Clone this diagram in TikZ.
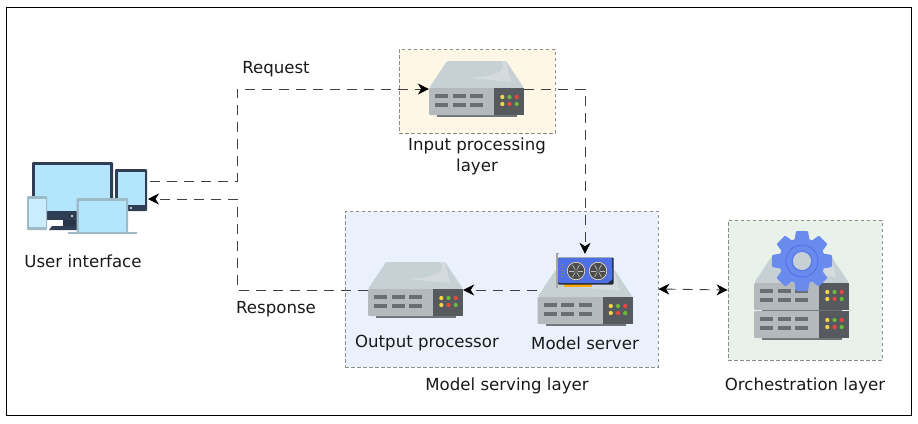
\documentclass[tikz,border=0pt]{standalone}
\usepackage{fontspec}
\setmainfont{DejaVu Sans}
\usetikzlibrary{arrows.meta}
\definecolor{topc}{HTML}{C7D0D5}
\definecolor{toph}{HTML}{D4DADE}
\definecolor{frontc}{HTML}{B4B9BD}
\definecolor{panelc}{HTML}{565A5E}
\definecolor{slotc}{HTML}{686E73}
\definecolor{basec}{HTML}{6F7478}
\definecolor{ledy}{HTML}{F5D547}
\definecolor{ledg}{HTML}{6CBB3C}
\definecolor{ledr}{HTML}{E8483F}
\definecolor{screenc}{HTML}{B3E5FC}
\definecolor{bezelc}{HTML}{2F3E55}
\definecolor{gearc}{HTML}{6A8BEE}
\definecolor{gearl}{HTML}{4F6FE6}
\definecolor{lapc}{HTML}{9DBAC6}
\tikzset{
  x=1pt,y=-1pt,
  conn/.style={draw=black!75,line width=0.9pt,dash pattern=on 10pt off 7pt},
  tip/.style={-{Stealth[length=11pt,width=11pt,inset=3.5pt,black]}},
  bothtips/.style={{Stealth[length=11pt,width=11pt,inset=3.5pt,black]}-{Stealth[length=11pt,width=11pt,inset=3.5pt,black]}},
  layerbox/.style={draw=black!45,line width=0.9pt,dash pattern=on 3.5pt off 2.5pt},
  lbl/.style={font=\fontsize{16.6}{19}\selectfont,inner sep=0pt,text=black!90},
  iconarea/.style={inner sep=0pt,draw=none},
  led/.style={fill=#1,draw=none},
  pics/unit/.style={code={
    % origin is the top left corner of the front face
    \fill[basec] (8,27) rectangle (88,29);
    \fill[frontc,rounded corners=1pt] (0,0) rectangle (66,27);
    \fill[panelc] (65,0) rectangle (95,27);
    \foreach \sx in {6,23.5,41}{
      \fill[slotc] (\sx,5.5) rectangle ++(13,4.5);
      \fill[slotc] (\sx,14.5) rectangle ++(13,4.5);
    }
    \fill[led=ledy] (73.3,9) circle (2.1);
    \fill[led=ledg] (80.5,9) circle (2.1);
    \fill[led=ledr] (87.7,9) circle (2.1);
    \fill[led=ledy] (73.3,16) circle (2.1);
    \fill[led=ledr] (80.5,16) circle (2.1);
    \fill[led=ledg] (87.7,16) circle (2.1);
  }},
  pics/lid/.style={code={
    \fill[topc,rounded corners=1.5pt] (0,0) -- (18,-27) -- (77,-27) -- (95,0) -- cycle;
    \fill[toph] (72,-27) .. controls (78,-18) and (70,-12) .. (40,-10) -- (82,-6) -- (77,-27) -- cycle;
  }}
}
\begin{document}
\begin{tikzpicture}
\useasboundingbox (0,0) rectangle (918,423);
\fill[white] (0,0) rectangle (918,423);
\node[draw=black,line width=1pt,fill=none,inner sep=0pt,minimum width=905pt,minimum height=408pt] (frame) at (458.5,211) {};

% layer boxes
\node[layerbox,fill={rgb,255:red,255;green,247;blue,229},inner sep=0pt,minimum width=156pt,minimum height=84pt] (inbox) at (477,91) {};
\node[layerbox,fill={rgb,255:red,234;green,241;blue,252},inner sep=0pt,minimum width=313pt,minimum height=156pt] (servebox) at (501.5,289) {};
\node[layerbox,fill={rgb,255:red,233;green,242;blue,234},inner sep=0pt,minimum width=154pt,minimum height=140pt] (orchbox) at (805,290) {};

% icon areas
\node[iconarea,minimum width=95pt,minimum height=56pt] (inserver) at (476.5,89) {};
\node[iconarea,minimum width=95pt,minimum height=56pt] (outserver) at (415.5,290) {};
\node[iconarea,minimum width=96pt,minimum height=72pt] (modelserver) at (585,290) {};
\coordinate (uiout) at (150,181);
\coordinate (uiin) at (148,199);
\coordinate (bus) at (237,0);

% connectors
\draw[conn,tip] (uiout) -- (bus |- uiout) -- (bus |- inserver.west) -- (inserver.west);
\draw[conn,tip] (inserver.east) -| (modelserver.north);
\draw[conn,tip] (modelserver.west) -- (outserver.east);
\draw[conn,tip] (outserver.west) -- (bus |- outserver.west) -- (bus |- uiin) -- (uiin);
\draw[conn,bothtips] (servebox.east) -- (orchbox.west);

% input server
\pic at (429,88) {lid};
\pic at (429,88) {unit};
% output server
\pic at (368,289) {lid};
\pic at (368,289) {unit};
% model server
\pic at (537.5,297) {lid};
\pic at (537.5,297) {unit};
\fill[black!35] (556,252.5) rectangle (557.5,288);
\fill[black!35] (556,252.5) rectangle (559,254);
\fill[orange!70!yellow] (564,284) rectangle (592,287);
\fill[bezelc!70!black,rounded corners=1pt] (558,257.5) rectangle (613.5,284.5);
\fill[gearl,rounded corners=1pt] (558,258) -- (612,258) -- (612.5,279) -- (608,283) -- (558,283) -- cycle;
\foreach \fx in {576,598}{
  \fill[black!70] (\fx,271) circle (9.5);
  \draw[white!85!black,line width=0.8pt] (\fx,271) circle (8.8);
  \foreach \ang in {0,60,...,300}{
    \draw[black!25,line width=0.7pt] (\fx,271) -- ++(\ang:7);
  }
  \fill[black!60] (\fx,271) circle (2.2);
}
\foreach \fy in {264,267,270,273,276}{
  \fill[black!50] (561,\fy) rectangle ++(3,1);
}
% orchestration servers
\pic at (754,283) {lid};
\fill[basec] (762,308) rectangle (842,311);
\pic at (754,283) {unit};
\pic at (754,311) {unit};
% gear
\foreach \ang in {0,45,...,315}{
  \begin{scope}[shift={(802,261)},rotate=\ang]
    \fill[gearc,rounded corners=1pt] (-8,-18) -- (-6,-30) -- (6,-30) -- (8,-18) -- cycle;
  \end{scope}
}
\fill[gearc] (802,261) circle (23);
\draw[gearl,line width=0.8pt] (802,261) circle (16);
\draw[gearl!60!gearc,line width=1.2pt] (802,261) circle (10);
\fill[topc] (802,261) circle (9);

% devices
\fill[bezelc,rounded corners=1pt] (32,162) rectangle (113,212);
\fill[screenc] (35,165) rectangle (110,211);
\fill[bezelc] (47,212) rectangle (78,220);
\fill[bezelc!85!black] (63,220) rectangle (78,228);
\fill[bezelc] (49,230) -- (52,226) -- (78,226) -- (78,230) -- cycle;
\fill[white] (72,216) circle (1.2);
\fill[bezelc,rounded corners=1pt] (115,169) rectangle (147,211);
\fill[screenc] (118,172) rectangle (145,205);
\fill[white] (131,208) circle (1.2);
\fill[lapc,rounded corners=1pt] (27,196) rectangle (47,230);
\fill[screenc!70!white] (28.5,199) rectangle (45.5,227);
\fill[lapc,rounded corners=1pt] (76.5,198) rectangle (128,232);
\fill[screenc] (79,201) rectangle (125.5,232);
\fill[lapc] (68,232) rectangle (137,234);

% labels
\node[lbl] (uilabel) at (83,261.5) {User interface};
\node[lbl] (reqlabel) at (276,69.5) {Request};
\node[lbl] (reslabel) at (276,309.5) {Response};
\node[lbl] (inlabel1) at (477,145.5) {Input processing};
\node[lbl] (inlabel2) at (477,166.5) {layer};
\node[lbl] (outlabel) at (427,343.5) {Output processor};
\node[lbl] (modlabel) at (585,343.5) {Model server};
\node[lbl] (servelabel) at (507,385.5) {Model serving layer};
\node[lbl] (orchlabel) at (805,385.5) {Orchestration layer};
\end{tikzpicture}
\end{document}
